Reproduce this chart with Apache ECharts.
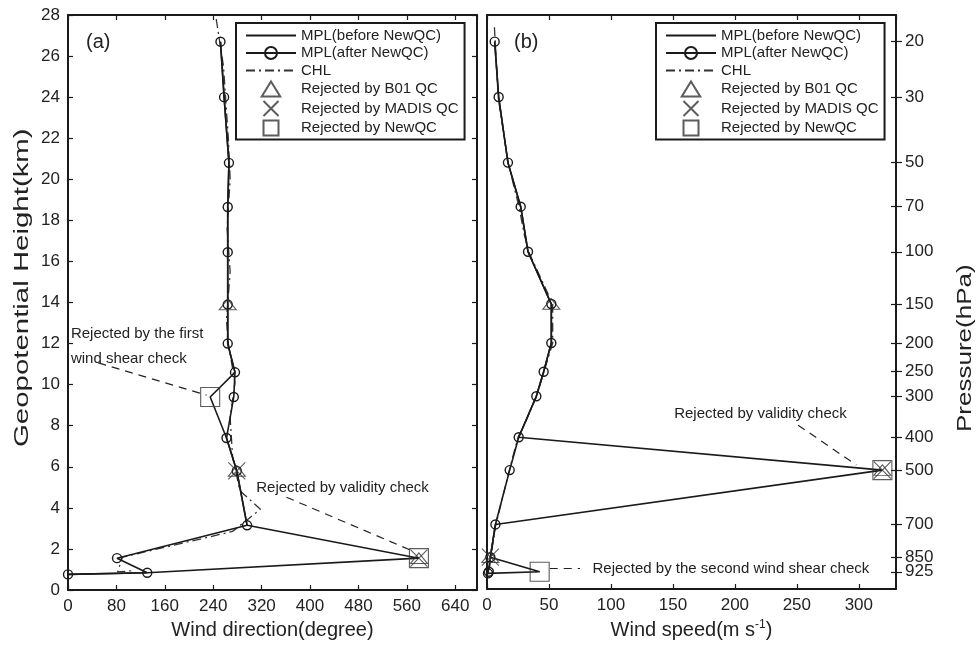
<!DOCTYPE html>
<html>
<head>
<meta charset="utf-8">
<script src="https://cdn.jsdelivr.net/npm/echarts@6/dist/echarts.min.js"></script>
<style>
  html, body { margin: 0; padding: 0; background: #fff; }
  #main { width: 976px; height: 645px; }
</style>
</head>
<body>
<div id="main"></div>
<script>
// mandatory pressure levels and their geopotential height (km)
var pressureLabels = ['925', '850', '700', '500', '400', '300', '250', '200', '150', '100', '70', '50', '30', '20'];
var pressureKm = [0.84, 1.55, 3.15, 5.8, 7.4, 9.4, 10.6, 12.0, 13.9, 16.45, 18.65, 20.8, 24.0, 26.7];

// MPL sounding: surface, then the pressure levels above
var mplKm = [0.76, 0.84, 1.55, 3.15, 5.8, 7.4, 9.4, 10.6, 12.0, 13.9, 16.45, 18.65, 20.8, 24.0, 26.7];
var dirBefore = [0, 131, 580, 296, 279, 262, 235, 276, 264, 264, 264, 264, 266, 258, 252];
var dirAfter  = [0, 131, 81, 296, 279, 262, 274, 276, 264, 264, 264, 264, 266, 258, 252];
var spdBefore = [0.8, 42.5, 2.7, 6.8, 319, 25.6, 39.8, 45.7, 51.9, 51.9, 33.1, 27.2, 16.9, 9.4, 6.2];
var spdAfter  = [0.8, 1.5, 2.7, 6.8, 18.3, 25.6, 39.8, 45.7, 51.9, 51.9, 33.1, 27.2, 16.9, 9.4, 6.2];

// CHL radiosonde
var chlKmA = [27.8, 25.5, 22.0, 20.0, 17.6, 15.5, 13.15, 12.0, 10.1, 8.4, 6.5, 4.84, 3.93, 2.85, 1.6, 0.88, 0.95];
var chlDir = [245, 257, 265, 268, 263, 268, 262, 265, 276, 268, 272, 284, 318, 272, 90, 82, 110];
var chlKmB = [27.4, 24.0, 20.8, 18.6, 17.3, 16.4, 13.9, 12.0, 10.6, 9.4, 8.0, 7.4, 5.8, 3.1, 1.55, 0.95];
var chlSpd = [6, 9, 17, 26, 30, 34, 53, 53, 46, 40, 30, 25, 18, 7, 3, 2];

// rejected observations
var b01DirA = [264, 279, 580];   var b01KmA = [13.9, 5.8, 1.55];
var madisDirA = [279, 580];      var madisKmA = [5.8, 1.55];
var newqcDirA = [235, 580];      var newqcKmA = [9.4, 1.55];
var b01SpdB = [51.9, 2.7, 319];  var b01KmB = [13.9, 1.55, 5.8];
var madisSpdB = [2.7, 319];      var madisKmB = [1.55, 5.8];
var newqcSpdB = [319, 42.5];     var newqcKmB = [5.8, 0.84];

var FONT = 'Liberation Sans';
var INK = '#1a1a1a';

function pairs(xs, ys) {
  return xs.map(function (x, i) { return [x, ys[i]]; });
}

function pressureText(v) {
  var best = 0;
  pressureKm.forEach(function (k, i) { if (Math.abs(k - v) < Math.abs(pressureKm[best] - v)) best = i; });
  return pressureLabels[best];
}

var chart = echarts.init(document.getElementById('main'), null, { renderer: 'canvas' });

var lineBase = { width: 1.6, color: INK, type: 'solid' };
var chlLine = { width: 1.3, color: '#333', type: [9, 4, 2, 4] };
var dashLine = { width: 1.2, color: '#222', type: [8, 6] };
var TRI = 'path://M8,0L16,13L0,13Z';
var XPATH = 'path://M0,0L10,10M10,0L0,10';
var SQ = 'path://M0,0L10,0L10,10L0,10Z';

function axisLineOpt() {
  return { show: true, onZero: false, lineStyle: { color: INK, width: 2 } };
}

function xAxisOpt(grid, max, interval, bottom, name) {
  return {
    type: 'value', gridIndex: grid, position: bottom ? 'bottom' : 'top',
    min: 0, max: max, interval: interval,
    name: bottom ? name : '', nameLocation: 'middle', nameGap: 30,
    nameTextStyle: { fontFamily: FONT, fontSize: 20, color: '#222', rich: { sup: { fontFamily: FONT, fontSize: 12, verticalAlign: 'top', padding: [0, 0, 10, 0], color: '#222' } } },
    axisLine: axisLineOpt(),
    axisTick: { show: true, inside: true, length: 5, lineStyle: { color: INK, width: 1.2 } },
    axisLabel: { show: bottom, showMaxLabel: false, margin: 8, fontFamily: FONT, fontSize: 17, color: '#222' },
    splitLine: { show: false }
  };
}

var hideSymbol = { color: 'transparent', borderColor: 'transparent', borderWidth: 0 };

function legendOpt(left) {
  return {
    left: left, top: 23, orient: 'vertical',
    backgroundColor: '#fff', borderColor: INK, borderWidth: 2, borderRadius: 0,
    padding: [5, 6, 3, 9], itemWidth: 50, itemHeight: 15, itemGap: 2.5,
    textStyle: { fontFamily: FONT, fontSize: 15, color: '#222' },
    data: [
      { name: 'MPL(before NewQC)', itemStyle: hideSymbol },
      'MPL(after NewQC)',
      { name: 'CHL', itemStyle: hideSymbol },
      'Rejected by B01 QC', 'Rejected by MADIS QC', 'Rejected by NewQC'
    ]
  };
}

function textPoint(x, y, txt) {
  return {
    coord: [x, y], symbol: 'circle', symbolSize: 1, itemStyle: { color: 'transparent' },
    label: { show: true, position: [0, 0], align: 'left', verticalAlign: 'middle', formatter: txt,
      fontFamily: FONT, fontSize: 15, color: '#222' }
  };
}

function markerSeries(name, grid, xs, ys, symbol, size) {
  return {
    name: name, type: 'scatter', xAxisIndex: grid * 2, yAxisIndex: grid === 0 ? 0 : 2,
    data: pairs(xs, ys), symbol: symbol, symbolSize: size, symbolKeepAspect: true, z: 5,
    itemStyle: { color: 'transparent', borderColor: '#333', borderWidth: 1.1 }
  };
}

var circleStyle = { color: 'transparent', borderColor: INK, borderWidth: 1.4 };
var pressureLabelStyle = { margin: 9, fontFamily: FONT, fontSize: 17, color: '#222', formatter: pressureText };

var option = {
  animation: false,
  backgroundColor: '#fff',
  grid: [
    { left: 68, top: 15, width: 409, height: 578 },
    { left: 487, top: 15, width: 409, height: 578 }
  ],
  legend: [legendOpt(236), legendOpt(656)],
  xAxis: [
    xAxisOpt(0, 676, 80, true, 'Wind direction(degree)'),
    xAxisOpt(0, 676, 80, false),
    xAxisOpt(1, 330, 50, true, 'Wind speed(m s{sup|-1})'),
    xAxisOpt(1, 330, 50, false)
  ],
  yAxis: [
    {
      type: 'value', gridIndex: 0, position: 'left', min: 0, max: 28, interval: 2,
      axisLine: axisLineOpt(),
      axisTick: { show: true, inside: true, length: 5, lineStyle: { color: INK, width: 1.2 } },
      axisLabel: { margin: 8, fontFamily: FONT, fontSize: 17, color: '#222' },
      splitLine: { show: false }
    },
    {
      type: 'value', gridIndex: 0, position: 'right', min: 0, max: 28, interval: 2,
      axisLine: axisLineOpt(),
      axisTick: { show: true, inside: true, length: 5, lineStyle: { color: INK, width: 1.2 } },
      axisLabel: { show: false }, splitLine: { show: false }
    },
    {
      type: 'value', gridIndex: 1, position: 'left', min: 0, max: 28, interval: 2,
      axisLine: axisLineOpt(),
      axisTick: { show: false }, axisLabel: { show: false }, splitLine: { show: false }
    },
    {
      // pressure axis: outer ticks, labels from 850 hPa upwards
      type: 'value', gridIndex: 1, position: 'right', min: 0, max: 28,
      axisLine: axisLineOpt(),
      axisTick: { show: true, inside: false, length: 6, customValues: pressureKm, lineStyle: { color: INK, width: 1.2 } },
      axisLabel: Object.assign({ customValues: pressureKm.slice(1) }, pressureLabelStyle),
      splitLine: { show: false }
    },
    {
      // inner pressure ticks, plus the 925 hPa label that overlaps 850
      type: 'value', gridIndex: 1, position: 'right', min: 0, max: 28,
      axisLine: { show: false, onZero: false },
      axisTick: { show: true, inside: true, length: 5, customValues: pressureKm, lineStyle: { color: INK, width: 1.2 } },
      axisLabel: Object.assign({ customValues: pressureKm.slice(0, 1) }, pressureLabelStyle),
      splitLine: { show: false }
    }
  ],
  graphic: [
    { type: 'text', left: 86, top: 32, style: { text: '(a)', font: '20px ' + FONT, fill: '#222' } },
    { type: 'text', left: 514, top: 32, style: { text: '(b)', font: '20px ' + FONT, fill: '#222' } },
    { type: 'text', x: 12, y: 447, rotation: Math.PI / 2, scaleX: 1.4,
      style: { text: 'Geopotential Height(km)', font: '21px ' + FONT, fill: '#222' } },
    { type: 'text', x: 955, y: 432, rotation: Math.PI / 2, scaleX: 1.3,
      style: { text: 'Pressure(hPa)', font: '20px ' + FONT, fill: '#222' } }
  ],
  series: [
    {
      name: 'MPL(before NewQC)', type: 'line', xAxisIndex: 0, yAxisIndex: 0,
      data: pairs(dirBefore, mplKm), symbol: 'none', lineStyle: lineBase, itemStyle: { color: INK }, z: 3,
      markLine: { silent: true, symbol: 'none', lineStyle: dashLine, label: { show: false },
        data: [
          [{ coord: [50, 11.06] }, { coord: [229, 9.49] }],
          [{ coord: [361, 4.52] }, { coord: [566, 1.94] }]
        ] },
      markPoint: { silent: true, data: [
        textPoint(5.6, 12.47, 'Rejected by the first'),
        textPoint(5.6, 11.25, 'wind shear check'),
        textPoint(312, 4.95, 'Rejected by validity check')
      ] }
    },
    {
      name: 'MPL(before NewQC)', type: 'line', xAxisIndex: 2, yAxisIndex: 2,
      data: pairs(spdBefore, mplKm), symbol: 'none', lineStyle: lineBase, itemStyle: { color: INK }, z: 3,
      markLine: { silent: true, symbol: 'none', lineStyle: dashLine, label: { show: false },
        data: [
          [{ coord: [251, 7.99] }, { coord: [298, 6.05] }],
          [{ coord: [50.6, 0.99] }, { coord: [75, 0.99] }]
        ] },
      markPoint: { silent: true, data: [
        textPoint(151.4, 8.52, 'Rejected by validity check'),
        textPoint(85.5, 0.97, 'Rejected by the second wind shear check')
      ] }
    },
    {
      name: 'MPL(after NewQC)', type: 'line', xAxisIndex: 0, yAxisIndex: 0,
      data: pairs(dirAfter, mplKm), symbol: 'circle', symbolSize: 9, showSymbol: true, lineStyle: lineBase,
      itemStyle: circleStyle, z: 4
    },
    {
      name: 'MPL(after NewQC)', type: 'line', xAxisIndex: 2, yAxisIndex: 2,
      data: pairs(spdAfter, mplKm), symbol: 'circle', symbolSize: 9, showSymbol: true, lineStyle: lineBase,
      itemStyle: circleStyle, z: 4
    },
    {
      name: 'CHL', type: 'line', xAxisIndex: 0, yAxisIndex: 0,
      data: pairs(chlDir, chlKmA), symbol: 'none', lineStyle: chlLine, itemStyle: { color: '#333' }, z: 2
    },
    {
      name: 'CHL', type: 'line', xAxisIndex: 2, yAxisIndex: 2,
      data: pairs(chlSpd, chlKmB), symbol: 'none', lineStyle: chlLine, itemStyle: { color: '#333' }, z: 2
    },
    markerSeries('Rejected by B01 QC', 0, b01DirA, b01KmA, TRI, [17, 13]),
    markerSeries('Rejected by B01 QC', 1, b01SpdB, b01KmB, TRI, [17, 13]),
    markerSeries('Rejected by MADIS QC', 0, madisDirA, madisKmA, XPATH, 17),
    markerSeries('Rejected by MADIS QC', 1, madisSpdB, madisKmB, XPATH, 17),
    markerSeries('Rejected by NewQC', 0, newqcDirA, newqcKmA, SQ, 19),
    markerSeries('Rejected by NewQC', 1, newqcSpdB, newqcKmB, SQ, 19)
  ]
};

chart.setOption(option);
</script>
</body>
</html>
